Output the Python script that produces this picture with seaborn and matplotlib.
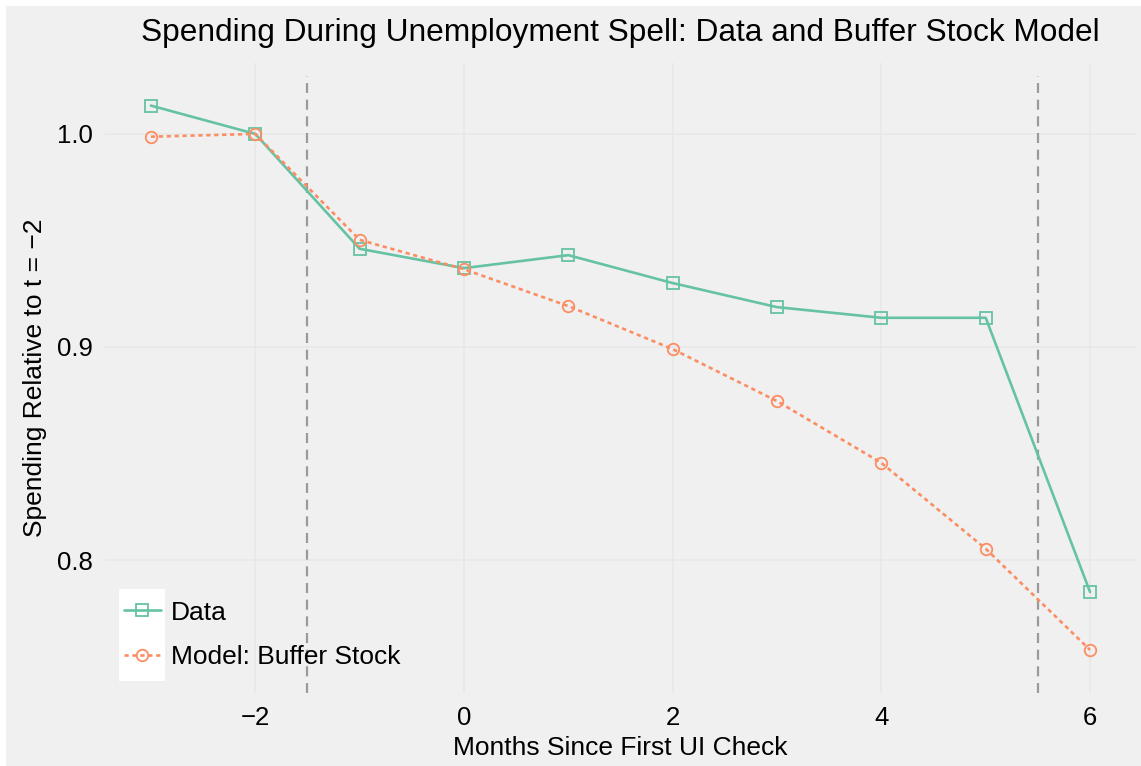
import pandas as pd
import matplotlib
matplotlib.use('Agg')
import matplotlib.pyplot as plt
from matplotlib.patches import Rectangle
import seaborn as sns

# values
months = [-3, -2, -1, 0, 1, 2, 3, 4, 5, 6]
data_vals = [1.0133, 1.0, 0.9461, 0.937, 0.9431, 0.930, 0.9187, 0.9137, 0.9137, 0.785]
model_vals = [0.9987, 1.0, 0.9503, 0.9365, 0.9192, 0.899, 0.8746, 0.8456, 0.8053, 0.7578]
vline_x = [-1.5, 5.5]
x_ticks = [-2, 0, 2, 4, 6]
y_ticks = [0.8, 0.9, 1.0]

df = pd.DataFrame({'month': months + months,
                   'spending': data_vals + model_vals,
                   'series': ['Data'] * len(months) + ['Model: Buffer Stock'] * len(months)})

bg = '#F0F0F0'
sns.set_theme(style='whitegrid', rc={
    'axes.facecolor': bg, 'figure.facecolor': 'white',
    'grid.color': '#E7E7E7', 'grid.linewidth': 1.1,
    'axes.edgecolor': bg,
    'text.color': 'black', 'axes.labelcolor': 'black',
    'xtick.color': 'black', 'ytick.color': 'black',
})
plt.rcParams['font.family'] = ['Liberation Sans', 'DejaVu Sans']

fig = plt.figure(figsize=(11.41, 7.66), dpi=100)
# grey background with thin white strip on top and left, as in the original
fig.patches.append(Rectangle((6 / 1141, -0.01), 1.1, 1.01 - 6 / 766, transform=fig.transFigure,
                             facecolor=bg, edgecolor='none', zorder=-10))
ax = fig.add_axes([0.092, 0.0953, 0.9036, 0.8225])

colors = {'Data': '#66C2A5', 'Model: Buffer Stock': '#FC8D62'}

ax.vlines(vline_x, 0.7376, 1.0273, colors='#9A9A9A', linestyles=(0, (4.5, 3)), linewidth=1.6, zorder=1)

sns.lineplot(data=df[df.series == 'Data'], x='month', y='spending', ax=ax,
             color=colors['Data'], linewidth=1.9, marker='s', markersize=8.3,
             markerfacecolor='none', markeredgecolor=colors['Data'], markeredgewidth=1.3,
             label='Data', zorder=3)
sns.lineplot(data=df[df.series == 'Model: Buffer Stock'], x='month', y='spending', ax=ax,
             color=colors['Model: Buffer Stock'], linewidth=1.9, marker='o', markersize=8.3,
             markerfacecolor='none', markeredgecolor=colors['Model: Buffer Stock'],
             markeredgewidth=1.3, dashes=(1.6, 1.4), label='Model: Buffer Stock', zorder=3)

ax.set_xlim(-3.44, 6.44)
ax.set_ylim(0.7376, 1.0333)
ax.set_xticks(x_ticks)
ax.set_yticks(y_ticks)
ax.set_yticklabels(['0.8', '0.9', '1.0'])
ax.tick_params(axis='both', labelsize=18.5, length=0, colors='black', pad=9)
for s in ax.spines.values():
    s.set_visible(False)

ax.set_xlabel('Months Since First UI Check', fontsize=19, labelpad=5)
ax.set_ylabel('Spending Relative to t = \u22122', fontsize=19, labelpad=7)
ax.set_title('Spending During Unemployment Spell: Data and Buffer Stock Model', fontsize=22.8, pad=16)

# white key background like the original legend
ax.add_patch(Rectangle((0.0136, 0.019), 0.0446, 0.146, transform=ax.transAxes,
                       facecolor='white', edgecolor='none', zorder=2))
leg = ax.legend(loc='lower left', bbox_to_anchor=(-0.005, 0.0), frameon=False, fontsize=19,
                handlelength=1.4, handletextpad=0.38, labelspacing=0.78)

fig.savefig('out.png', dpi=100)
